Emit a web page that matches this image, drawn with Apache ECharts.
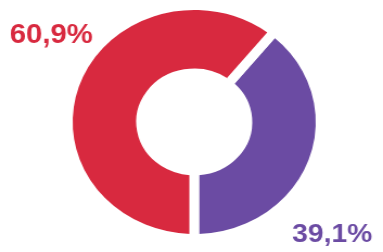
<!DOCTYPE html>
<html>
<head>
<meta charset="utf-8">
<script src="https://cdn.jsdelivr.net/npm/echarts@6/dist/echarts.min.js"></script>
<style>
  html, body { margin: 0; padding: 0; background: #fff; overflow: hidden; }
  /* the scanned donut is a little wider than tall */
  #chart { width: 353px; height: 252px; transform: scaleX(1.085); transform-origin: 0 0; }
</style>
</head>
<body>
<div id="chart"></div>
<script>
// Data
const shares = [39.1, 60.9];
const labels = ['39,1%', '60,9%'];
const colors = ['#6b4ba3', '#d8293f'];

const chart = echarts.init(document.getElementById('chart'), null, { renderer: 'canvas' });
chart.setOption({
  animation: false,
  graphic: [
    {
      type: 'text', left: 9, top: 22,
      style: { text: labels[1], fill: colors[1], font: 'bold 27px "Liberation Sans"' }
    },
    {
      type: 'text', right: 10, top: 222,
      style: { text: labels[0], fill: colors[0], font: 'bold 26px "Liberation Sans"' }
    }
  ],
  series: [{
    type: 'pie',
    center: [179, 122],
    radius: [49, 116.5],
    startAngle: 50.76,
    clockwise: true,
    silent: true,
    itemStyle: { borderColor: '#fff', borderWidth: 9, borderRadius: 4 },
    label: { show: false },
    labelLine: { show: false },
    data: shares.map((v, i) => ({ value: v, itemStyle: { color: colors[i] } }))
  }]
});
</script>
</body>
</html>
